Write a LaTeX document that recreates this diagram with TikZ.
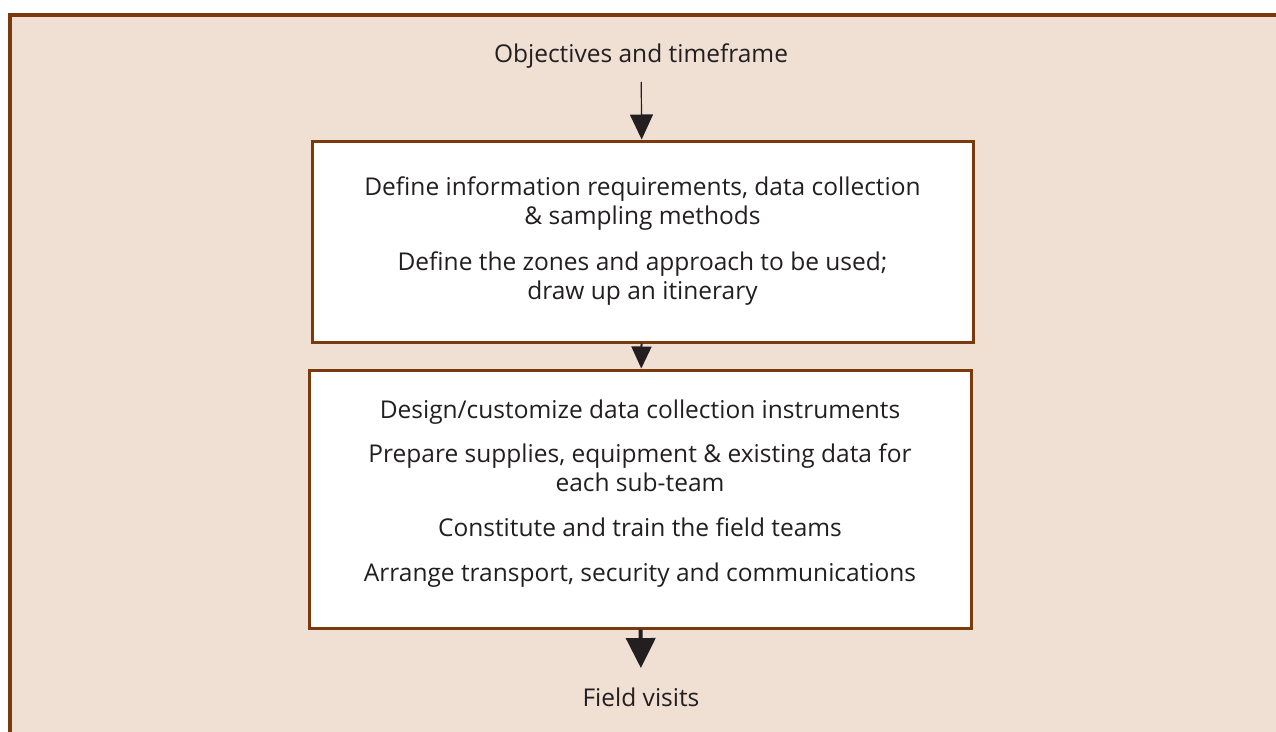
\documentclass[tikz,border=0pt]{standalone}
\usepackage{fontspec}
\setmainfont{Open Sans}
\usetikzlibrary{arrows.meta,positioning}
\definecolor{framebrown}{HTML}{7B3A0E}
\definecolor{panelbg}{HTML}{F0E0D4}
\definecolor{inktext}{HTML}{231F20}
\begin{document}
\begin{tikzpicture}[x=1pt,y=-1pt,
    every node/.append style={font=\fontsize{24.5}{29}\selectfont,color=inktext},
    stepbox/.style={draw=framebrown,line width=3pt,fill=white,align=center,inner sep=0pt},
    flow/.style={-{Triangle[length=25pt,width=23pt]},line width=1.2pt,color=inktext}]
  \useasboundingbox (0,0) rectangle (1276,731);
  % panel behind the chart
  \fill[panelbg] (10,15) rectangle (1290,745);
  \draw[framebrown,line width=4pt] (10,745) -- (10,15) -- (1290,15);
  \node (objectives) at (641,56) {Objectives and timeframe};
  \node (define) [stepbox,minimum width=661pt,minimum height=201pt] at (642.5,241.5)
    {Define information requirements, data collection\\ \& sampling methods\\[17pt]
     Define the zones and approach to be used;\\ draw up an itinerary};
  \node (prepare) [stepbox,minimum width=662pt,minimum height=258pt] at (640,499)
    {Design/customize data collection instruments\\[15pt]
     Prepare supplies, equipment \& existing data for\\ each sub-team\\[16pt]
     Constitute and train the field teams\\[16pt]
     Arrange transport, security and communications\\[-12pt]};
  \node (visits) at (641,697) {Field visits};
  \draw[flow,shorten <=10pt] (objectives) -- (define);
  \draw[flow,-{Triangle[length=22pt,width=20pt]},line width=2pt] (define) -- (prepare);
  \draw[flow,-{Triangle[length=30pt,width=29pt]},line width=4pt,shorten >=16pt] (prepare) -- (visits);
\end{tikzpicture}
\end{document}
